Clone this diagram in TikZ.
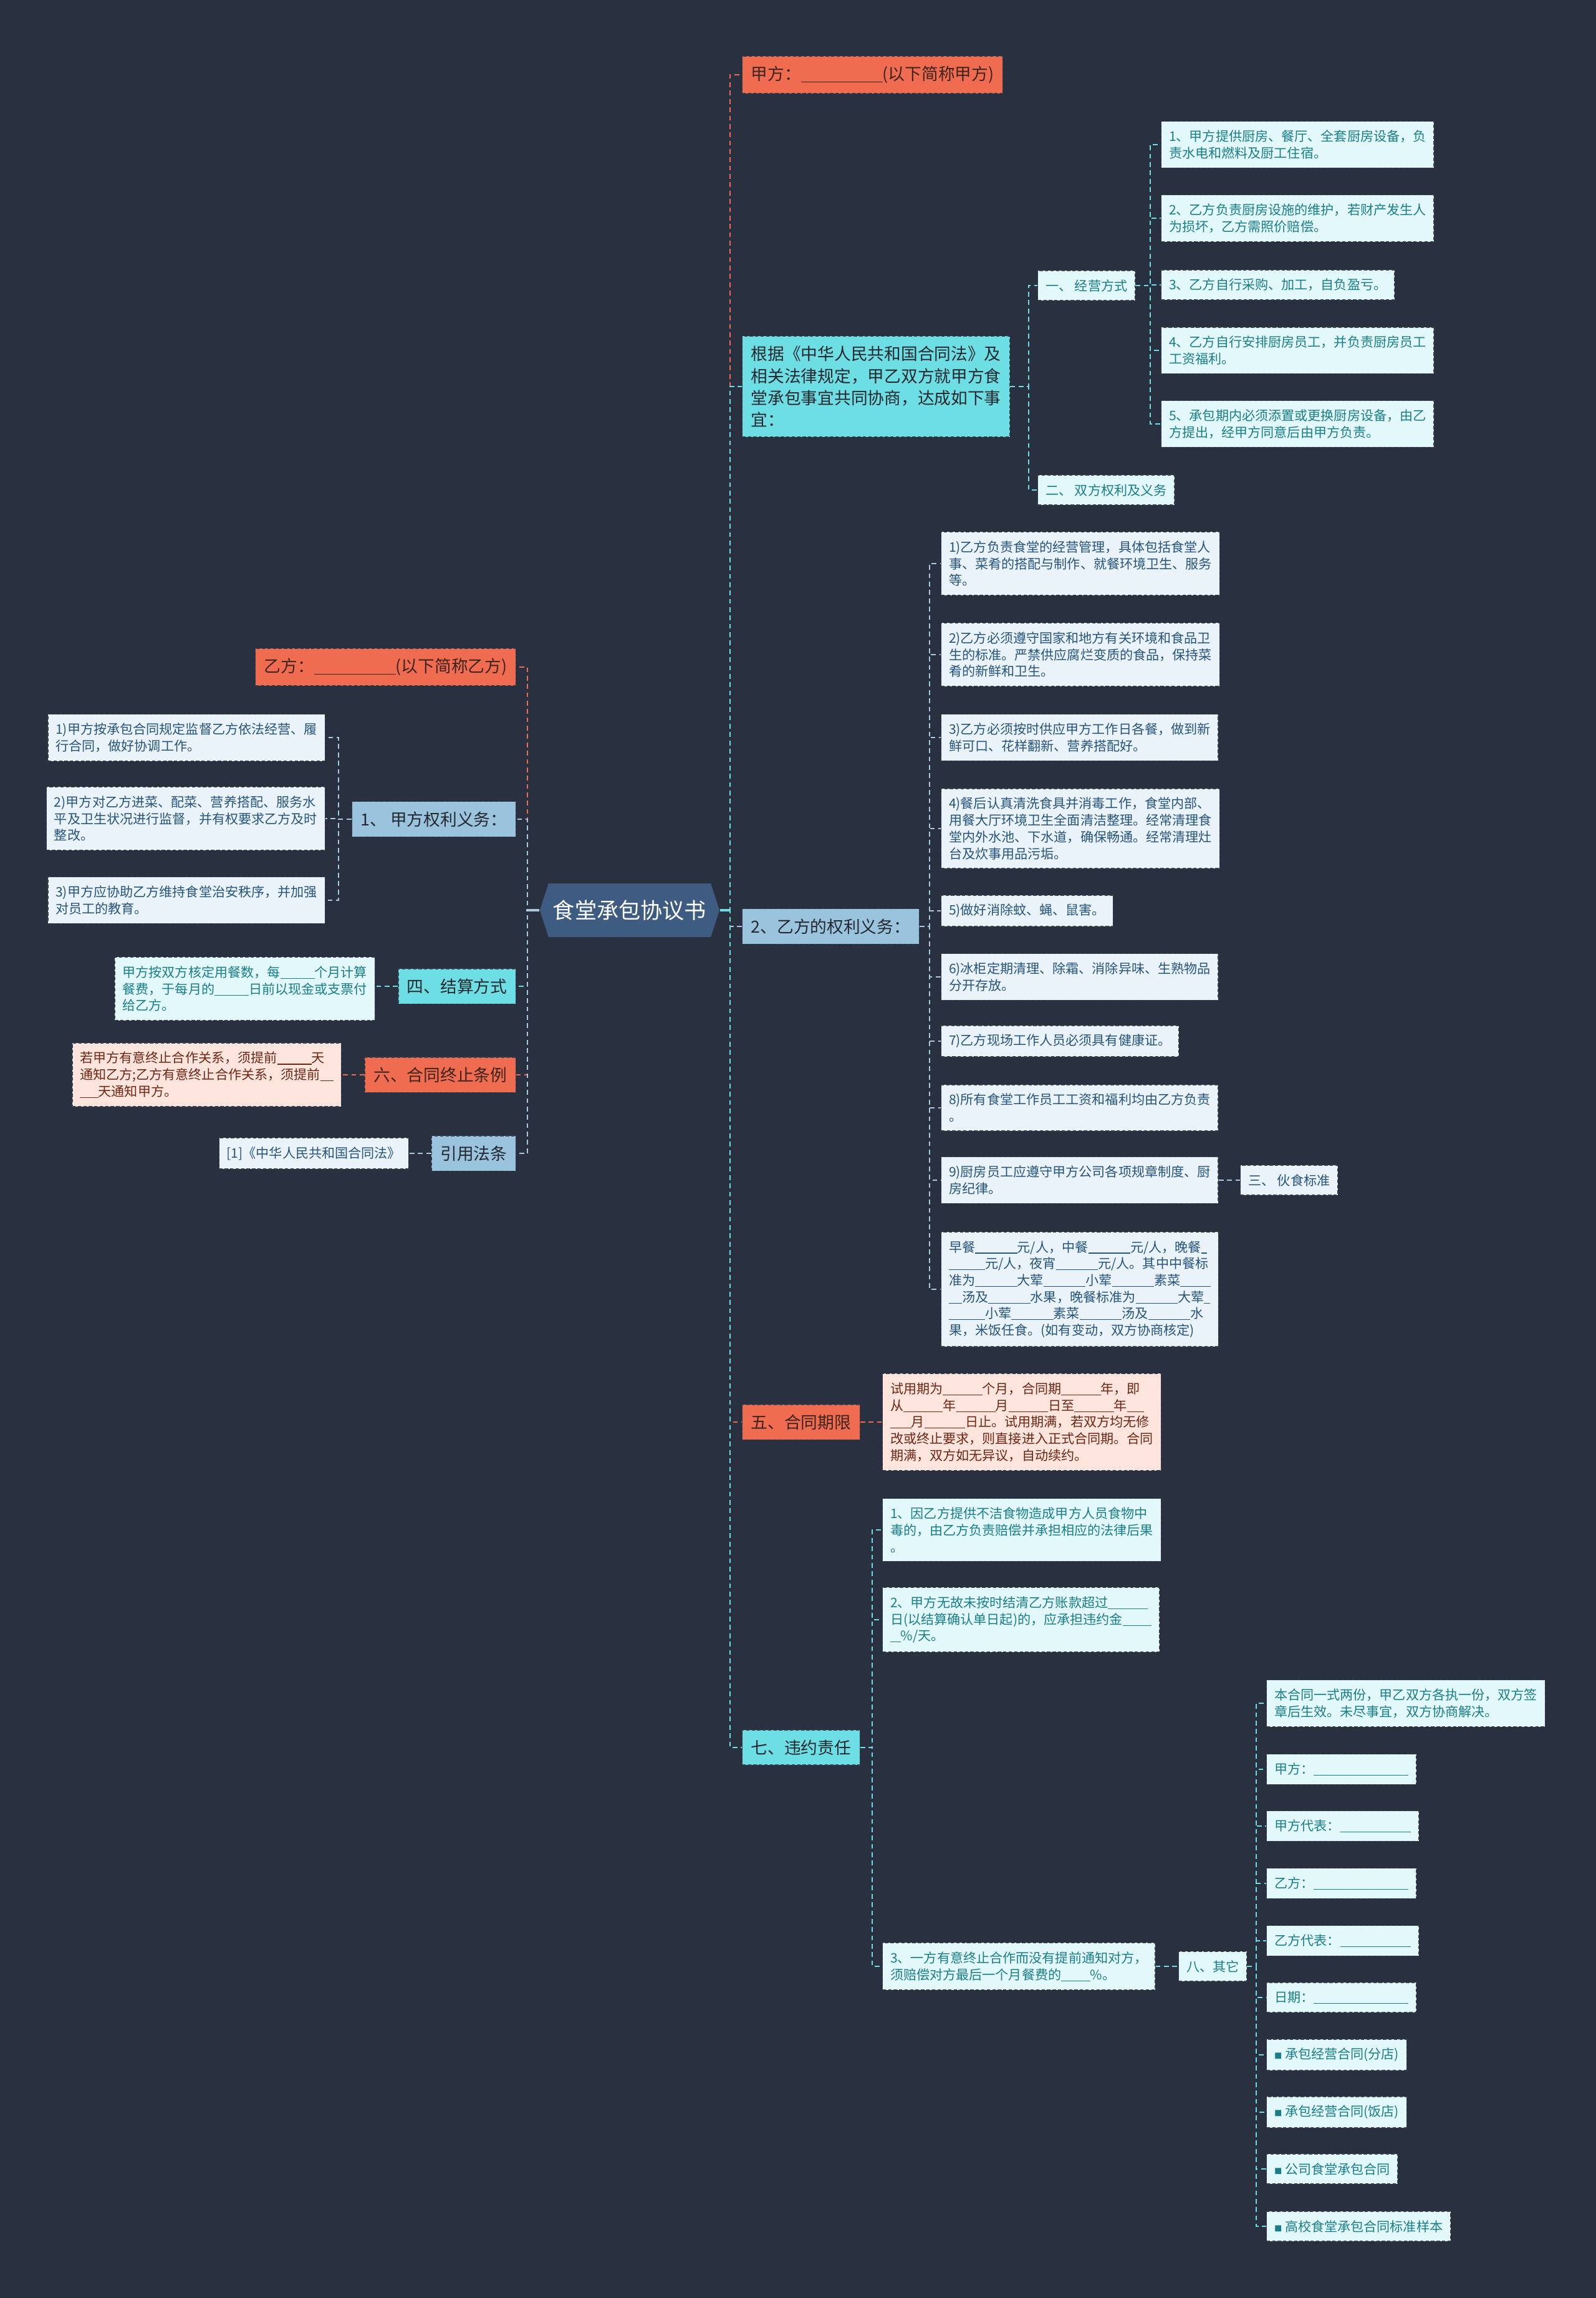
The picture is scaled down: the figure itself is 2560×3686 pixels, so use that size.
\documentclass[tikz,border=0pt]{standalone}
\usepackage{fontspec}
\setmainfont{Noto Sans CJK SC}
\usepackage{tikz}
\usetikzlibrary{shapes.symbols}
\definecolor{bgdark}{RGB}{41,49,64}
\definecolor{hexblue}{RGB}{62,91,130}
\definecolor{orangefill}{RGB}{240,108,80}
\definecolor{cyanfill}{RGB}{108,222,228}
\definecolor{bluefill}{RGB}{154,196,222}
\definecolor{leafcyanfill}{RGB}{226,248,250}
\definecolor{leafbluefill}{RGB}{234,243,249}
\definecolor{peachfill}{RGB}{253,228,220}
\definecolor{tealtext}{RGB}{26,126,136}
\definecolor{navytext}{RGB}{38,84,124}
\definecolor{browntext}{RGB}{110,38,20}
\definecolor{orangetext}{RGB}{60,35,28}
\definecolor{darktext}{RGB}{36,40,46}
\definecolor{boxedge}{RGB}{55,64,80}
\definecolor{lineblue}{RGB}{170,200,222}
\newcommand{\blk}[1]{\rule[-0.12em]{#1em}{0.05em}}

\begin{document}
\begin{tikzpicture}[x=0.01cm, y=-0.01cm,
    box/.style={rectangle, draw=boxedge, line width=0.4pt, dash pattern=on 1.5pt off 1pt, align=left, inner xsep=3.5pt, inner ysep=4pt},
    top/.style={box, font=\fontsize{7.6}{10}\selectfont, inner xsep=4pt, inner ysep=4.5pt, text=darktext},
    lvorange/.style={top, fill=orangefill, text=orangetext},
    lvcyan/.style={top, fill=cyanfill},
    lvblue/.style={top, fill=bluefill},
    leaf/.style={box, font=\fontsize{6}{7.6}\selectfont},
    leafcyan/.style={leaf, fill=leafcyanfill, text=tealtext},
    leafblue/.style={leaf, fill=leafbluefill, text=navytext},
    leafpeach/.style={leaf, fill=peachfill, text=browntext},
    rootbox/.style={signal, signal to=east and west, signal pointer angle=144, fill=hexblue, text=white, font=\fontsize{10}{12}\selectfont, minimum height=0.86cm, inner xsep=2pt},
    ln/.style={line width=0.6pt, dash pattern=on 2.2pt off 1.6pt},
    lnorange/.style={ln, draw=orangefill},
    lncyan/.style={ln, draw=cyanfill},
    lnblue/.style={ln, draw=lineblue}]

\fill[bgdark] (0,0) rectangle (2560,3686);
\useasboundingbox (0,0) rectangle (2560,3686);

\node[rootbox] (root) at (1010,1460) {食堂承包协议书};

\node[lvorange, anchor=west] (jia) at (1190,120) {甲方：\blk{4.9}(以下简称甲方)};
\node[lvcyan, anchor=west] (genju) at (1190,620) {根据《中华人民共和国合同法》及\\相关法律规定，甲乙双方就甲方食\\堂承包事宜共同协商，达成如下事\\宜：};
\node[leafcyan, anchor=west] (jy) at (1664,458) {一、 经营方式};
\node[leafcyan, anchor=west] (jy1) at (1862,232) {1、甲方提供厨房、餐厅、全套厨房设备，负\\责水电和燃料及厨工住宿。};
\node[leafcyan, anchor=west] (jy2) at (1862,350) {2、乙方负责厨房设施的维护，若财产发生人\\为损坏，乙方需照价赔偿。};
\node[leafcyan, anchor=west] (jy3) at (1862,457) {3、乙方自行采购、加工，自负盈亏。};
\node[leafcyan, anchor=west] (jy4) at (1862,562) {4、乙方自行安排厨房员工，并负责厨房员工\\工资福利。};
\node[leafcyan, anchor=west] (jy5) at (1862,680) {5、承包期内必须添置或更换厨房设备，由乙\\方提出，经甲方同意后由甲方负责。};
\node[leafcyan, anchor=west] (qy) at (1664,786) {二、 双方权利及义务};

\node[lvblue, anchor=west] (yi) at (1190,1486) {2、乙方的权利义务：};
\node[leafblue, anchor=west] (y1) at (1509,904) {1)乙方负责食堂的经营管理，具体包括食堂人\\事、菜肴的搭配与制作、就餐环境卫生、服务\\等。};
\node[leafblue, anchor=west] (y2) at (1509,1050) {2)乙方必须遵守国家和地方有关环境和食品卫\\生的标准。严禁供应腐烂变质的食品，保持菜\\肴的新鲜和卫生。};
\node[leafblue, anchor=west] (y3) at (1509,1183) {3)乙方必须按时供应甲方工作日各餐，做到新\\鲜可口、花样翻新、营养搭配好。};
\node[leafblue, anchor=west] (y4) at (1509,1329) {4)餐后认真清洗食具并消毒工作，食堂内部、\\用餐大厅环境卫生全面清洁整理。经常清理食\\堂内外水池、下水道，确保畅通。经常清理灶\\台及炊事用品污垢。};
\node[leafblue, anchor=west] (y5) at (1509,1461) {5)做好消除蚊、蝇、鼠害。};
\node[leafblue, anchor=west] (y6) at (1509,1567) {6)冰柜定期清理、除霜、消除异味、生熟物品\\分开存放。};
\node[leafblue, anchor=west] (y7) at (1509,1670) {7)乙方现场工作人员必须具有健康证。};
\node[leafblue, anchor=west] (y8) at (1509,1777) {8)所有食堂工作员工工资和福利均由乙方负责\\。};
\node[leafblue, anchor=west] (y9) at (1509,1893) {9)厨房员工应遵守甲方公司各项规章制度、厨\\房纪律。};
\node[leafblue, anchor=west] (huoshi) at (1989,1893) {三、 伙食标准};
\node[leafblue, anchor=west] (y10) at (1509,2068) {早餐\blk{3.2}元/人，中餐\blk{3.2}元/人，晚餐\blk{0.45}\\\blk{2.75}元/人，夜宵\blk{3.2}元/人。其中中餐标\\准为\blk{3.2}大荤\blk{3.2}小荤\blk{3.2}素菜\blk{2.3}\\\blk{1}汤及\blk{3.2}水果，晚餐标准为\blk{3.2}大荤\blk{0.45}\\\blk{2.75}小荤\blk{3.2}素菜\blk{3.2}汤及\blk{3.2}水\\果，米饭任食。(如有变动，双方协商核定)};

\node[lvorange, anchor=west] (qixian) at (1190,2281) {五、合同期限};
\node[leafpeach, anchor=west] (qixiantxt) at (1415,2281) {试用期为\blk{3}个月，合同期\blk{3}年，即\\从\blk{3}年\blk{3}月\blk{3}日至\blk{3}年\blk{1.3}\\\blk{1.6}月\blk{3.1}日止。试用期满，若双方均无修\\改或终止要求，则直接进入正式合同期。合同\\期满，双方如无异议，自动续约。};

\node[lvcyan, anchor=west] (weiyue) at (1190,2803) {七、违约责任};
\node[leafcyan, anchor=west] (w1) at (1415,2454) {1、因乙方提供不洁食物造成甲方人员食物中\\毒的，由乙方负责赔偿并承担相应的法律后果\\。};
\node[leafcyan, anchor=west] (w2) at (1415,2598) {2、甲方无故未按时结清乙方账款超过\blk{3}\\日(以结算确认单日起)的，应承担违约金\blk{2.2}\\\blk{0.8}\%/天。};
\node[leafcyan, anchor=west] (w3) at (1415,3154) {3、一方有意终止合作而没有提前通知对方，\\须赔偿对方最后一个月餐费的\blk{2.2}\%。};
\node[leafcyan, anchor=west] (qita) at (1890,3154) {八、其它};
\node[leafcyan, anchor=west] (q1) at (2031,2732) {本合同一式两份，甲乙双方各执一份，双方签\\章后生效。未尽事宜，双方协商解决。};
\node[leafcyan, anchor=west] (q2) at (2031,2838) {甲方：\blk{7.2}};
\node[leafcyan, anchor=west] (q3) at (2031,2929) {甲方代表：\blk{5.4}};
\node[leafcyan, anchor=west] (q4) at (2031,3021) {乙方：\blk{7.2}};
\node[leafcyan, anchor=west] (q5) at (2031,3113) {乙方代表：\blk{5.4}};
\node[leafcyan, anchor=west] (q6) at (2031,3204) {日期：\blk{7.2}};
\node[leafcyan, anchor=west] (q7) at (2031,3296) {{\fontsize{3.5}{4}\selectfont ■} 承包经营合同(分店)};
\node[leafcyan, anchor=west] (q8) at (2031,3388) {{\fontsize{3.5}{4}\selectfont ■} 承包经营合同(饭店)};
\node[leafcyan, anchor=west] (q9) at (2031,3479) {{\fontsize{3.5}{4}\selectfont ■} 公司食堂承包合同};
\node[leafcyan, anchor=west] (q10) at (2031,3571) {{\fontsize{3.5}{4}\selectfont ■} 高校食堂承包合同标准样本};

\node[lvorange, anchor=east] (yifang) at (828,1070) {乙方：\blk{4.9}(以下简称乙方)};
\node[lvblue, anchor=east] (jq) at (828,1314) {1、 甲方权利义务：};
\node[leafblue, anchor=east] (j1) at (522,1183) {1)甲方按承包合同规定监督乙方依法经营、履\\行合同，做好协调工作。};
\node[leafblue, anchor=east] (j2) at (522,1313) {2)甲方对乙方进菜、配菜、营养搭配、服务水\\平及卫生状况进行监督，并有权要求乙方及时\\整改。};
\node[leafblue, anchor=east] (j3) at (522,1444) {3)甲方应协助乙方维持食堂治安秩序，并加强\\对员工的教育。};
\node[lvcyan, anchor=east] (js) at (828,1582) {四、结算方式};
\node[leafcyan, anchor=east] (jstxt) at (602,1586) {甲方按双方核定用餐数，每\blk{2.6}个月计算\\餐费，于每月的\blk{2.6}日前以现金或支票付\\给乙方。};
\node[lvorange, anchor=east] (zz) at (828,1724) {六、合同终止条例};
\node[leafpeach, anchor=east] (zztxt) at (548,1724) {若甲方有意终止合作关系，须提前\blk{2.6}天\\通知乙方;乙方有意终止合作关系，须提前\blk{1}\\\blk{1.4}天通知甲方。};
\node[lvblue, anchor=east] (yy) at (828,1850) {引用法条};
\node[leafblue, anchor=east] (yytxt) at (656,1850) {[1]《中华人民共和国合同法》};

\draw[lnorange] (root.east) -| ([xshift=-.19cm]jia.west) -- (jia.west);
\draw[lncyan] (root.east) -| ([xshift=-.19cm]genju.west) -- (genju.west);
\draw[lnblue] (root.east) -| ([xshift=-.19cm]yi.west) -- (yi.west);
\draw[lnorange] (root.east) -| ([xshift=-.19cm]qixian.west) -- (qixian.west);
\draw[lncyan] (root.east) -| ([xshift=-.19cm]weiyue.west) -- (weiyue.west);
\draw[line width=1pt, cyanfill] (root.east) -- ++(17,0);

\draw[lnorange] (root.west) -| ([xshift=.18cm]yifang.east) -- (yifang.east);
\draw[lnblue] (root.west) -| ([xshift=.18cm]jq.east) -- (jq.east);
\draw[lncyan] (root.west) -| ([xshift=.18cm]js.east) -- (js.east);
\draw[lnorange] (root.west) -| ([xshift=.18cm]zz.east) -- (zz.east);
\draw[lnblue] (root.west) -| ([xshift=.18cm]yy.east) -- (yy.east);
\draw[line width=1pt, lineblue] (root.west) -- ++(-21,0);

\draw[lncyan] (genju.east) -| ([xshift=-.14cm]jy.west) -- (jy.west);
\draw[lncyan] (genju.east) -| ([xshift=-.14cm]qy.west) -- (qy.west);
\draw[lncyan] (jy.east) -| ([xshift=-.17cm]jy1.west) -- (jy1.west);
\draw[lncyan] (jy.east) -| ([xshift=-.17cm]jy2.west) -- (jy2.west);
\draw[lncyan] (jy.east) -| ([xshift=-.17cm]jy3.west) -- (jy3.west);
\draw[lncyan] (jy.east) -| ([xshift=-.17cm]jy4.west) -- (jy4.west);
\draw[lncyan] (jy.east) -| ([xshift=-.17cm]jy5.west) -- (jy5.west);

\draw[lnblue] (yi.east) -| ([xshift=-.18cm]y1.west) -- (y1.west);
\draw[lnblue] (yi.east) -| ([xshift=-.18cm]y2.west) -- (y2.west);
\draw[lnblue] (yi.east) -| ([xshift=-.18cm]y3.west) -- (y3.west);
\draw[lnblue] (yi.east) -| ([xshift=-.18cm]y4.west) -- (y4.west);
\draw[lnblue] (yi.east) -| ([xshift=-.18cm]y5.west) -- (y5.west);
\draw[lnblue] (yi.east) -| ([xshift=-.18cm]y6.west) -- (y6.west);
\draw[lnblue] (yi.east) -| ([xshift=-.18cm]y7.west) -- (y7.west);
\draw[lnblue] (yi.east) -| ([xshift=-.18cm]y8.west) -- (y8.west);
\draw[lnblue] (yi.east) -| ([xshift=-.18cm]y9.west) -- (y9.west);
\draw[lnblue] (yi.east) -| ([xshift=-.18cm]y10.west) -- (y10.west);
\draw[lnblue] (y9.east) -- (huoshi.west);

\draw[lnorange] (qixian.east) -- (qixiantxt.west);

\draw[lncyan] (weiyue.east) -| ([xshift=-.16cm]w1.west) -- (w1.west);
\draw[lncyan] (weiyue.east) -| ([xshift=-.16cm]w2.west) -- (w2.west);
\draw[lncyan] (weiyue.east) -| ([xshift=-.16cm]w3.west) -- (w3.west);
\draw[lncyan] (w3.east) -- (qita.west);
\draw[lncyan] (qita.east) -| ([xshift=-.16cm]q1.west) -- (q1.west);
\draw[lncyan] (qita.east) -| ([xshift=-.16cm]q2.west) -- (q2.west);
\draw[lncyan] (qita.east) -| ([xshift=-.16cm]q3.west) -- (q3.west);
\draw[lncyan] (qita.east) -| ([xshift=-.16cm]q4.west) -- (q4.west);
\draw[lncyan] (qita.east) -| ([xshift=-.16cm]q5.west) -- (q5.west);
\draw[lncyan] (qita.east) -| ([xshift=-.16cm]q6.west) -- (q6.west);
\draw[lncyan] (qita.east) -| ([xshift=-.16cm]q7.west) -- (q7.west);
\draw[lncyan] (qita.east) -| ([xshift=-.16cm]q8.west) -- (q8.west);
\draw[lncyan] (qita.east) -| ([xshift=-.16cm]q9.west) -- (q9.west);
\draw[lncyan] (qita.east) -| ([xshift=-.16cm]q10.west) -- (q10.west);

\draw[lnblue] (jq.west) -| ([xshift=.21cm]j1.east) -- (j1.east);
\draw[lnblue] (jq.west) -| ([xshift=.21cm]j2.east) -- (j2.east);
\draw[lnblue] (jq.west) -| ([xshift=.21cm]j3.east) -- (j3.east);
\draw[lncyan] (js.west) -- (js.west -| jstxt.east);
\draw[lnorange] (zz.west) -- (zztxt.east);
\draw[lnblue] (yy.west) -- (yytxt.east);

\end{tikzpicture}
\end{document}
